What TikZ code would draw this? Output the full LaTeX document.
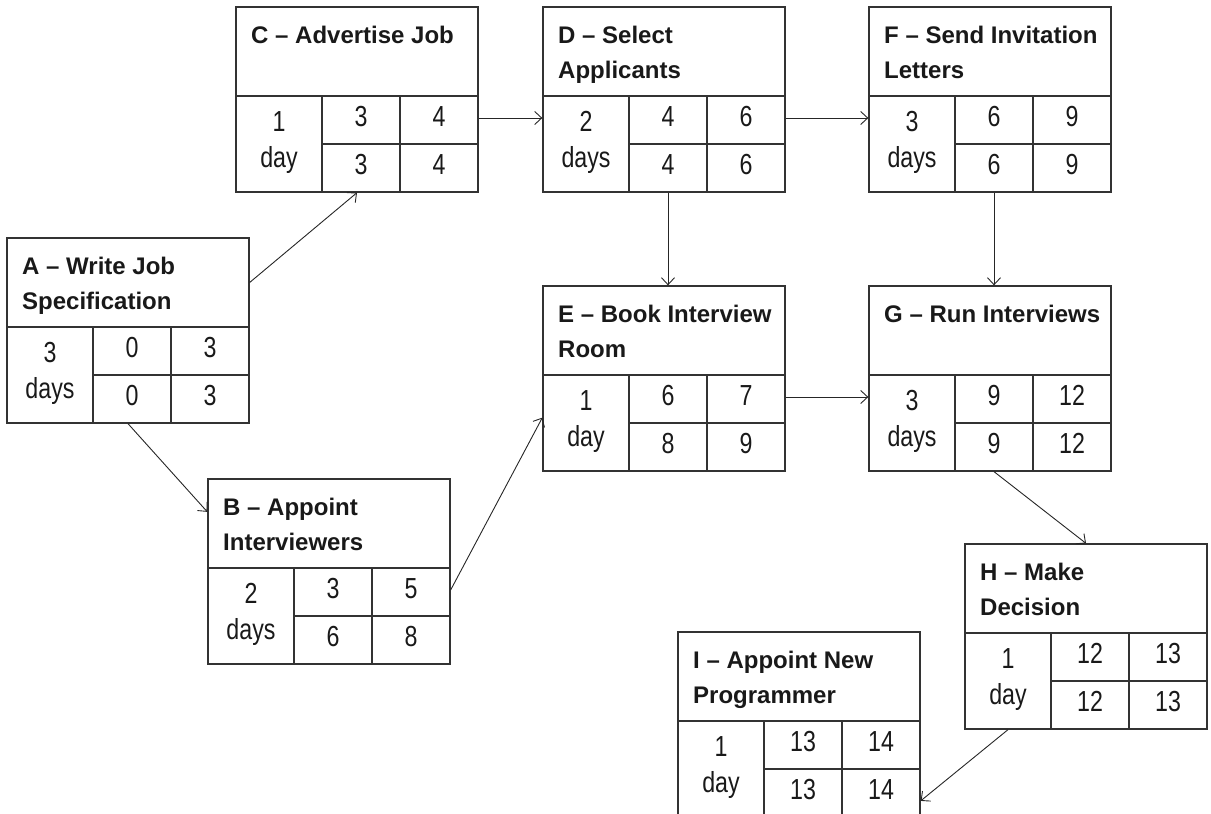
\documentclass[tikz,border=0pt]{standalone}
\usepackage{fontspec}
\setmainfont{Liberation Sans}
\newfontfamily\cellfont[FakeStretch=0.8]{Liberation Sans}
\usetikzlibrary{arrows.meta,calc}

\tikzset{
  actbox/.style={draw=black!80, line width=1.3pt, minimum width=242pt,
    minimum height=185pt, inner sep=0pt},
  grid line/.style={draw=black!80, line width=1.3pt},
  acttitle/.style={anchor=north west, align=left, inner sep=0pt, text=black!90,
    font=\fontsize{24}{35}\selectfont\bfseries},
  actdur/.style={anchor=north, align=center, inner sep=0pt, text=black!90,
    font=\cellfont\fontsize{29}{36}\selectfont},
  actnum/.style={anchor=base, inner sep=0pt, text=black!90,
    font=\cellfont\fontsize{29}{32}\selectfont},
  link/.style={draw=black!85, line width=0.9pt,
    -{Straight Barb[length=7pt,width=13pt]}},
}

% #1 name, #2 top left corner, #3 title, #4 duration, #5 ES, #6 EF, #7 LS, #8 LF
\newcommand\actbox[8]{%
  \begin{scope}[shift={#2}]
    \node[actbox] (#1) at (121,92.5) {};
    \draw[grid line] (0,89) -- (242,89)
                     (86,89) -- (86,185)
                     (164,89) -- (164,185)
                     (86,137) -- (242,137);
    \node[acttitle] (#1-t) at (15,18.8) {#3};
    \node[actdur] (#1-d) at (43,104.2) {#4};
    \node[actnum] (#1-es) at (125,119) {#5};
    \node[actnum] (#1-ef) at (203,119) {#6};
    \node[actnum] (#1-ls) at (125,167) {#7};
    \node[actnum] (#1-lf) at (203,167) {#8};
    \coordinate (#1-top) at (121,44.5); % middle of the title part
    \coordinate (#1-up) at (121,111);   % middle of the upper row
  \end{scope}}

\begin{document}
\begin{tikzpicture}[x=1pt, y=-1pt]
    \useasboundingbox (0,0) rectangle (1211,814);

    \actbox{A}{(7,238)}{A – Write Job\\Specification}{3\\days}{0}{3}{0}{3}
    \actbox{B}{(208,479)}{B – Appoint\\Interviewers}{2\\days}{3}{5}{6}{8}
    \actbox{C}{(236,7)}{C – Advertise Job}{1\\day}{3}{4}{3}{4}
    \actbox{D}{(543,7)}{D – Select\\Applicants}{2\\days}{4}{6}{4}{6}
    \actbox{E}{(543,286)}{E – Book Interview\\Room}{1\\day}{6}{7}{8}{9}
    \actbox{F}{(869,7)}{F – Send Invitation\\Letters}{3\\days}{6}{9}{6}{9}
    \actbox{G}{(869,286)}{G – Run Interviews}{3\\days}{9}{12}{9}{12}
    \actbox{H}{(965,544)}{H – Make\\Decision}{1\\day}{12}{13}{12}{13}
    \actbox{I}{(678,632)}{I – Appoint New\\Programmer}{1\\day}{13}{14}{13}{14}

    % links between activities
    \draw[link] (A.east |- A-top) -- (C.south);
    \draw[link] (A.south) -- ($(B.north west)!0.18!(B.south west)$);
    \draw[link] (B.east |- B-up) -- ($(E.north west)!0.71!(E.south west)$);
    \draw[link] (C.east |- C-up) -- (D.west |- C-up);
    \draw[link] (D.east |- D-up) -- (F.west |- D-up);
    \draw[link] (D-es |- D.south) -- (D-es |- E.north);
    \draw[link] (F-es |- F.south) -- (F-es |- G.north);
    \draw[link] (E.east |- E-up) -- (G.west |- E-up);
    \draw[link] (G-es |- G.south) -- (H.north);
    \draw[link] (H-d |- H.south) -- ($(I.north east)!0.91!(I.south east)$);
\end{tikzpicture}
\end{document}
